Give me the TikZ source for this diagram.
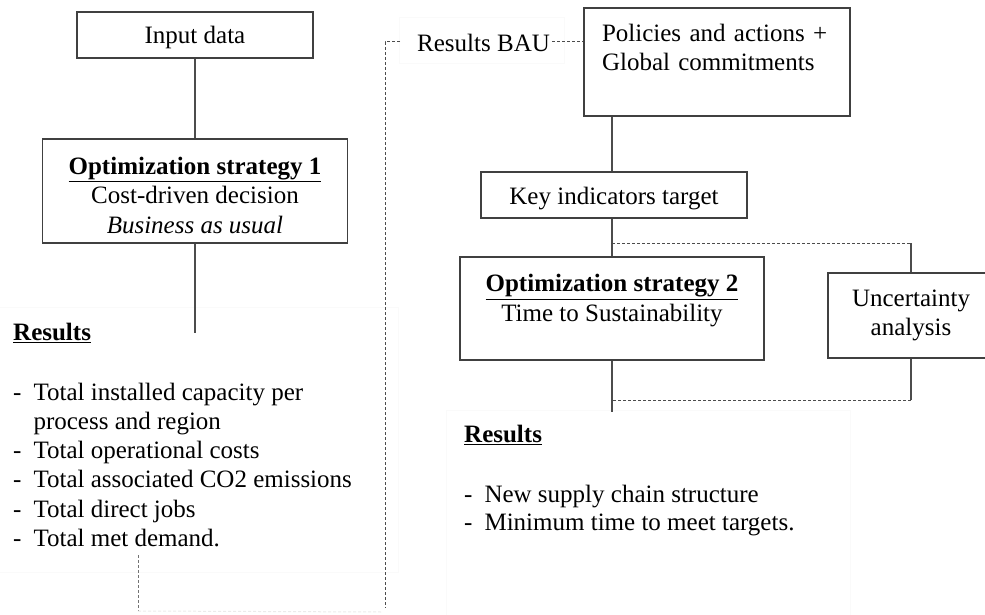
\documentclass[tikz,border=0pt]{standalone}
\usepackage{fontspec}
\setmainfont{Liberation Serif}
\begin{document}
\begin{tikzpicture}[x=1pt,y=-1pt,
  every node/.style={font=\fontsize{25}{29.5}\selectfont},
  box/.style={draw=black!75, line width=1.1pt, inner sep=0pt, align=center},
  link/.style={draw=black!70, line width=1.1pt},
  dashlink/.style={draw=black!70, line width=1pt, dash pattern=on 3pt off 2pt},
  faint/.style={draw=black!2, line width=0.5pt},
  txt/.style={inner sep=0pt, anchor=base west, align=left}]
\useasboundingbox (0,0) rectangle (985,615);
% faint text-box frames
\draw[faint] (0,307) -- (398,307) -- (398,572) -- (0,572);
\draw[faint] (399,17) rectangle (564,63);
\draw[faint] (446,615) -- (446,410) -- (850,410) -- (850,615);
% left column
\node[box, minimum width=236pt, minimum height=46pt, text height=23pt, text depth=5pt] (input) at (195,35) {Input data};
\node[box, minimum width=305pt, minimum height=104pt] (opt1) at (195,191)
  {\begin{tabular}{@{}c@{}}\rule{0pt}{34.6pt}\textbf{\underline{Optimization strategy 1}}\\Cost-driven decision\\\textit{Business as usual}\end{tabular}};
\coordinate (opt1end) at (195,333);
\draw[link] (input.south) -- (opt1.north);
\draw[link] (opt1.south) -- (opt1end);
\node[txt] (res1) at (13,340) {\textbf{\underline{Results}}};
\node[txt, font=\fontsize{25}{29.3}\selectfont] (list1) at (13,400) {\begin{tabular}[t]{@{}l@{\hspace{12pt}}l@{}}
-&Total installed capacity per\\
&process and region\\
-&Total operational costs\\
-&Total associated CO2 emissions\\
-&Total direct jobs\\
-&Total met demand.\end{tabular}};
\coordinate (d1) at (138,555);
\coordinate (d2) at (138,611);
\coordinate (d3) at (382,612);
\draw[dashlink, draw=black!55] (d1) -- (d2);
\draw[dashlink, draw=black!8] (d2) -- (d3);
% Results BAU feedback
\node[txt] (bau) at (417,52) {Results BAU};
\coordinate (bauL) at (400,42);
\coordinate (corner) at (385,42);
\coordinate (bauEnd) at (385,608);
\coordinate (bauR) at (552,42);
\draw[dashlink] (bauL) -- (corner) -- (bauEnd);
% right column
\node[box, minimum width=266pt, minimum height=108pt, text width=230pt, align=left] (policies) at (717,62)
  {Policies and actions +\\Global commitments\\\mbox{}};
\draw[dashlink] (bauR) -- (bauR -| policies.west);
\node[box, minimum width=266pt, minimum height=46pt, text height=23pt, text depth=5pt] (key) at (614,195) {Key indicators target};
\node[box, minimum width=304pt, minimum height=103pt] (opt2) at (612,308.5)
  {\begin{tabular}{@{}c@{}}\rule{0pt}{34.6pt}\textbf{\underline{Optimization strategy 2}}\\Time to Sustainability\\\mbox{}\end{tabular}};
\node[box, minimum width=166pt, minimum height=85pt] (unc) at (911,315.5) {Uncertainty\\analysis};
\draw[link] (policies.south -| opt2.north) -- (key.north -| opt2.north);
\draw[link] (key.south -| opt2.north) -- (opt2.north);
\coordinate (sp1) at (612,243);
\coordinate (sp2) at (911,243);
\draw[dashlink] (sp1) -- (sp2);
\draw[link] (sp2) -- (unc.north);
\coordinate (res2end) at (612,412);
\draw[link] (opt2.south) -- (res2end);
\coordinate (sp3) at (612,400);
\coordinate (sp4) at (911,400);
\draw[link] (unc.south) -- (sp4);
\draw[dashlink] (sp4) -- (sp3);
\node[txt] (res2) at (464,442) {\textbf{\underline{Results}}};
\node[txt, font=\fontsize{25}{28}\selectfont] (list2) at (464,502) {\begin{tabular}[t]{@{}l@{\hspace{12pt}}l@{}}
-&New supply chain structure\\
-&Minimum time to meet targets.\end{tabular}};
\end{tikzpicture}
\end{document}
